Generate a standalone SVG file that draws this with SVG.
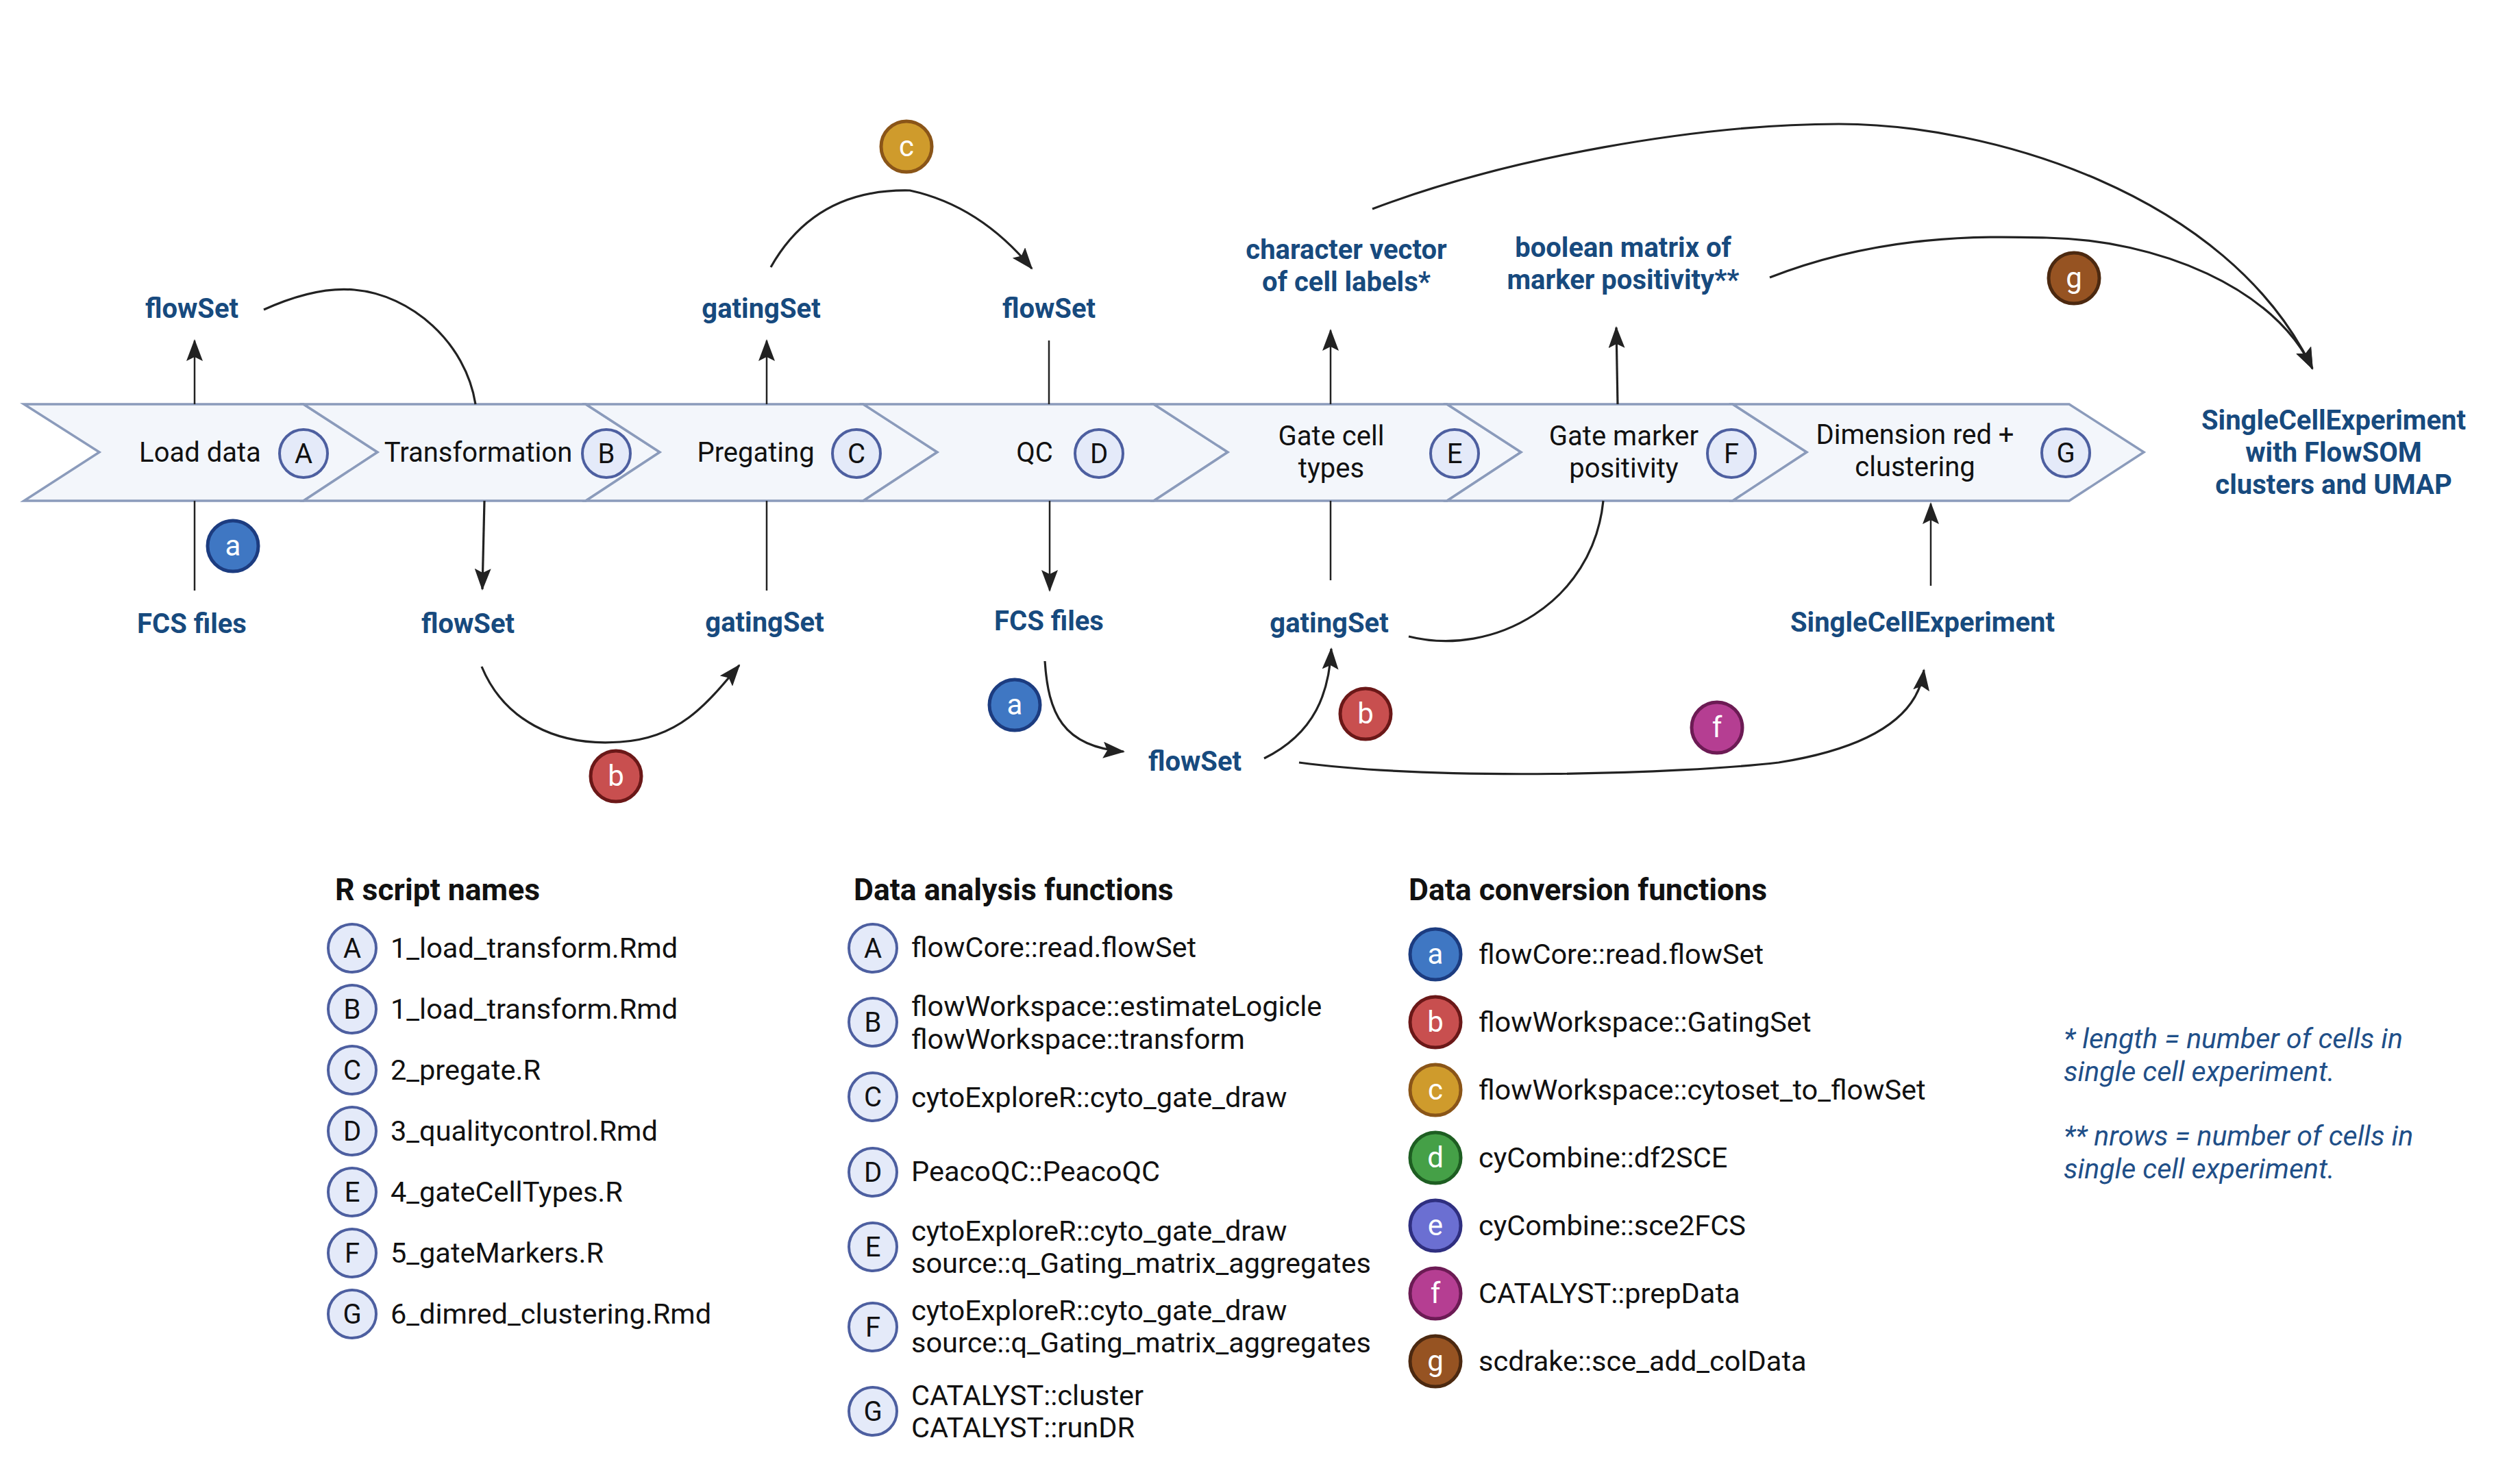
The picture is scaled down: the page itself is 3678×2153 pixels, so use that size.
<svg xmlns="http://www.w3.org/2000/svg" width="3678" height="2153" viewBox="0 0 3678 2153">
<defs>
<style>
text{font-family:Roboto,"Liberation Sans",sans-serif;}
.st{font-size:40px;fill:#111;text-anchor:middle;}
.lb{font-size:40px;font-weight:700;fill:#174a7e;text-anchor:middle;}
.lt{font-size:41.5px;fill:#111;}
.hd{font-size:44.5px;font-weight:700;fill:#111;}
.nt{font-size:41px;font-style:italic;fill:#1f4f88;}
.cl{font-size:42px;fill:#fff;text-anchor:middle;}
.cu{font-size:40px;fill:#111;text-anchor:middle;}
.band{fill:#f3f6fb;stroke:#8b9bbb;stroke-width:3.5;stroke-linejoin:miter;}
.sc{fill:#e4eaf9;stroke:#4d5fa0;stroke-width:4;}
.ln{stroke:#222;fill:none;stroke-width:2.5;}
.arc{stroke:#222;fill:none;stroke-width:3.2;}
.ca{fill:#3f77c3;stroke:#1c3c80;stroke-width:5;}
.cb{fill:#c84f4f;stroke:#6b1818;stroke-width:5;}
.cc{fill:#cf9b2c;stroke:#8a5518;stroke-width:5;}
.cd{fill:#45a047;stroke:#1e5e22;stroke-width:5;}
.ce{fill:#6b6fd2;stroke:#2f2f80;stroke-width:5;}
.cf{fill:#b53e92;stroke:#6c1b54;stroke-width:5;}
.cg{fill:#965322;stroke:#4c2910;stroke-width:5;}
</style>
<marker id="ah" viewBox="0 0 32 24" refX="30" refY="12" markerWidth="32" markerHeight="24" markerUnits="userSpaceOnUse" orient="auto">
<path d="M0,0 L32,12 L0,24 L6,12 Z" fill="#222"/>
</marker>
</defs>
<rect width="3678" height="2153" fill="#fff"/>

<g id="steps">
<g id="step-A">
<polygon class="band" points="35,590 443,590 551,660 443,731 35,731 145,660"/>
<text class="st" x="292" y="674">Load data</text>
<circle class="sc" cx="443" cy="662" r="35"/>
<text class="cu" x="443" y="676">A</text>
</g>
<g id="step-B">
<polygon class="band" points="443,590 855,590 963,660 855,731 443,731 551,660"/>
<text class="st" x="698" y="674">Transformation</text>
<circle class="sc" cx="885" cy="662" r="35"/>
<text class="cu" x="885" y="676">B</text>
</g>
<g id="step-C">
<polygon class="band" points="855,590 1260,590 1368,660 1260,731 855,731 963,660"/>
<text class="st" x="1103" y="674">Pregating</text>
<circle class="sc" cx="1250" cy="662" r="35"/>
<text class="cu" x="1250" y="676">C</text>
</g>
<g id="step-D">
<polygon class="band" points="1260,590 1684,590 1792,660 1684,731 1260,731 1368,660"/>
<text class="st" x="1510" y="674">QC</text>
<circle class="sc" cx="1604" cy="662" r="35"/>
<text class="cu" x="1604" y="676">D</text>
</g>
<g id="step-E">
<polygon class="band" points="1684,590 2112,590 2220,660 2112,731 1684,731 1792,660"/>
<text class="st" x="1943" y="650">Gate cell</text>
<text class="st" x="1943" y="697">types</text>
<circle class="sc" cx="2123" cy="662" r="35"/>
<text class="cu" x="2123" y="676">E</text>
</g>
<g id="step-F">
<polygon class="band" points="2112,590 2529,590 2637,660 2529,731 2112,731 2220,660"/>
<text class="st" x="2370" y="650">Gate marker</text>
<text class="st" x="2370" y="697">positivity</text>
<circle class="sc" cx="2527" cy="662" r="35"/>
<text class="cu" x="2527" y="676">F</text>
</g>
<g id="step-G">
<polygon class="band" points="2529,590 3020,590 3129,660 3020,731 2529,731 2637,660"/>
<text class="st" x="2795" y="648">Dimension red +</text>
<text class="st" x="2795" y="695">clustering</text>
<circle class="sc" cx="3015" cy="661" r="35"/>
<text class="cu" x="3015" y="675">G</text>
</g>
</g>

<g id="data-labels">
<g id="top-flowSet-1"><text class="lb" x="280" y="464">flowSet</text></g>
<g id="top-gatingSet"><text class="lb" x="1111" y="464">gatingSet</text></g>
<g id="top-flowSet-2"><text class="lb" x="1531" y="464">flowSet</text></g>
<g id="char-vector"><text class="lb" x="1965" y="378">character vector</text><text class="lb" x="1965" y="425">of cell labels*</text></g>
<g id="bool-matrix"><text class="lb" x="2369" y="375">boolean matrix of</text><text class="lb" x="2369" y="422">marker positivity**</text></g>
<g id="sce-final"><text class="lb" x="3406" y="627">SingleCellExperiment</text><text class="lb" x="3406" y="674">with FlowSOM</text><text class="lb" x="3406" y="721">clusters and UMAP</text></g>
<g id="fcs-1"><text class="lb" x="280" y="924">FCS files</text></g>
<g id="bot-flowSet-1"><text class="lb" x="683" y="924">flowSet</text></g>
<g id="bot-gatingSet-1"><text class="lb" x="1116" y="922">gatingSet</text></g>
<g id="fcs-2"><text class="lb" x="1531" y="920">FCS files</text></g>
<g id="bot-flowSet-2"><text class="lb" x="1744" y="1125">flowSet</text></g>
<g id="bot-gatingSet-2"><text class="lb" x="1940" y="923">gatingSet</text></g>
<g id="bot-sce"><text class="lb" x="2806" y="922">SingleCellExperiment</text></g>
</g>

<g id="connectors">
<path class="ln" d="M284,590 L284,497" marker-end="url(#ah)"/>
<path class="arc" d="M385,452 Q460,418 517,423 C600,430 680,500 694,590"/>
<path class="arc" d="M707,731 L704,860" marker-end="url(#ah)"/>
<path class="ln" d="M1119,590 L1119,497" marker-end="url(#ah)"/>
<path class="ln" d="M1531,497 L1531,590"/>
<path class="arc" d="M1125,390 Q1190,275 1328,278 Q1430,300 1506,392" marker-end="url(#ah)"/>
<path class="ln" d="M1942,590 L1942,482" marker-end="url(#ah)"/>
<path class="arc" d="M2361,590 L2359,478" marker-end="url(#ah)"/>
<path class="arc" d="M2003,305 C2200,230 2480,181 2684,181 C2900,181 3250,280 3375,538" marker-end="url(#ah)"/>
<path class="arc" d="M2583,405 C2750,340 2900,345 2987,347 C3150,350 3320,420 3375,538" marker-end="url(#ah)"/>
<path class="ln" d="M284,862 L284,731"/>
<path class="ln" d="M1119,862 L1119,731"/>
<path class="ln" d="M1532,731 L1532,862" marker-end="url(#ah)"/>
<path class="ln" d="M1942,847 L1942,731"/>
<path class="arc" d="M2056,929 C2180,960 2325,880 2340,731"/>
<path class="ln" d="M2818,855 L2818,735" marker-end="url(#ah)"/>
<path class="arc" d="M703,973 C735,1050 810,1090 905,1083 C990,1078 1030,1030 1079,971" marker-end="url(#ah)"/>
<path class="arc" d="M1525,965 C1530,1040 1550,1090 1640,1097" marker-end="url(#ah)"/>
<path class="arc" d="M1845,1107 C1920,1070 1940,1010 1943,947" marker-end="url(#ah)"/>
<path class="arc" d="M1896,1113 C2100,1140 2450,1130 2596,1113 C2740,1090 2800,1040 2808,978" marker-end="url(#ah)"/>
</g>

<g id="function-badges">
<g id="badge-a1"><circle class="ca" cx="340" cy="797" r="37"/><text class="cl" x="340" y="811">a</text></g>
<g id="badge-c"><circle class="cc" cx="1323" cy="214" r="37"/><text class="cl" x="1323" y="228">c</text></g>
<g id="badge-g"><circle class="cg" cx="3027" cy="406" r="37"/><text class="cl" x="3027" y="420">g</text></g>
<g id="badge-b1"><circle class="cb" cx="899" cy="1133" r="37"/><text class="cl" x="899" y="1147">b</text></g>
<g id="badge-a2"><circle class="ca" cx="1481" cy="1029" r="37"/><text class="cl" x="1481" y="1043">a</text></g>
<g id="badge-b2"><circle class="cb" cx="1993" cy="1042" r="37"/><text class="cl" x="1993" y="1056">b</text></g>
<g id="badge-f"><circle class="cf" cx="2506" cy="1062" r="37"/><text class="cl" x="2506" y="1076">f</text></g>
</g>

<g id="legend-scripts">
<text class="hd" x="489" y="1314">R script names</text>
<circle class="sc" cx="514" cy="1384" r="35"/><text class="cu" x="514" y="1398">A</text><text class="lt" x="570" y="1398">1_load_transform.Rmd</text>
<circle class="sc" cx="514" cy="1473" r="35"/><text class="cu" x="514" y="1487">B</text><text class="lt" x="570" y="1487">1_load_transform.Rmd</text>
<circle class="sc" cx="514" cy="1562" r="35"/><text class="cu" x="514" y="1576">C</text><text class="lt" x="570" y="1576">2_pregate.R</text>
<circle class="sc" cx="514" cy="1651" r="35"/><text class="cu" x="514" y="1665">D</text><text class="lt" x="570" y="1665">3_qualitycontrol.Rmd</text>
<circle class="sc" cx="514" cy="1740" r="35"/><text class="cu" x="514" y="1754">E</text><text class="lt" x="570" y="1754">4_gateCellTypes.R</text>
<circle class="sc" cx="514" cy="1829" r="35"/><text class="cu" x="514" y="1843">F</text><text class="lt" x="570" y="1843">5_gateMarkers.R</text>
<circle class="sc" cx="514" cy="1918" r="35"/><text class="cu" x="514" y="1932">G</text><text class="lt" x="570" y="1932">6_dimred_clustering.Rmd</text>
</g>

<g id="legend-analysis">
<text class="hd" x="1246" y="1314">Data analysis functions</text>
<circle class="sc" cx="1274" cy="1384" r="35"/><text class="cu" x="1274" y="1398">A</text><text class="lt" x="1330" y="1397">flowCore::read.flowSet</text>
<circle class="sc" cx="1274" cy="1492" r="35"/><text class="cu" x="1274" y="1506">B</text><text class="lt" x="1330" y="1483">flowWorkspace::estimateLogicle</text><text class="lt" x="1330" y="1531">flowWorkspace::transform</text>
<circle class="sc" cx="1274" cy="1601" r="35"/><text class="cu" x="1274" y="1615">C</text><text class="lt" x="1330" y="1616">cytoExploreR::cyto_gate_draw</text>
<circle class="sc" cx="1274" cy="1711" r="35"/><text class="cu" x="1274" y="1725">D</text><text class="lt" x="1330" y="1724">PeacoQC::PeacoQC</text>
<circle class="sc" cx="1274" cy="1820" r="35"/><text class="cu" x="1274" y="1834">E</text><text class="lt" x="1330" y="1811">cytoExploreR::cyto_gate_draw</text><text class="lt" x="1330" y="1858">source::q_Gating_matrix_aggregates</text>
<circle class="sc" cx="1274" cy="1937" r="35"/><text class="cu" x="1274" y="1951">F</text><text class="lt" x="1330" y="1927">cytoExploreR::cyto_gate_draw</text><text class="lt" x="1330" y="1974">source::q_Gating_matrix_aggregates</text>
<circle class="sc" cx="1274" cy="2060" r="35"/><text class="cu" x="1274" y="2074">G</text><text class="lt" x="1330" y="2051">CATALYST::cluster</text><text class="lt" x="1330" y="2098">CATALYST::runDR</text>
</g>

<g id="legend-conversion">
<text class="hd" x="2056" y="1314">Data conversion functions</text>
<circle class="ca" cx="2095" cy="1393" r="37"/><text class="cl" x="2095" y="1407">a</text><text class="lt" x="2158" y="1407">flowCore::read.flowSet</text>
<circle class="cb" cx="2095" cy="1492" r="37"/><text class="cl" x="2095" y="1506">b</text><text class="lt" x="2158" y="1506">flowWorkspace::GatingSet</text>
<circle class="cc" cx="2095" cy="1591" r="37"/><text class="cl" x="2095" y="1605">c</text><text class="lt" x="2158" y="1605">flowWorkspace::cytoset_to_flowSet</text>
<circle class="cd" cx="2095" cy="1690" r="37"/><text class="cl" x="2095" y="1704">d</text><text class="lt" x="2158" y="1704">cyCombine::df2SCE</text>
<circle class="ce" cx="2095" cy="1789" r="37"/><text class="cl" x="2095" y="1803">e</text><text class="lt" x="2158" y="1803">cyCombine::sce2FCS</text>
<circle class="cf" cx="2095" cy="1888" r="37"/><text class="cl" x="2095" y="1902">f</text><text class="lt" x="2158" y="1902">CATALYST::prepData</text>
<circle class="cg" cx="2095" cy="1987" r="37"/><text class="cl" x="2095" y="2001">g</text><text class="lt" x="2158" y="2001">scdrake::sce_add_colData</text>
</g>

<g id="notes">
<text class="nt" x="3012" y="1530">* length = number of cells in</text>
<text class="nt" x="3012" y="1578">single cell experiment.</text>
<text class="nt" x="3012" y="1672">** nrows = number of cells in</text>
<text class="nt" x="3012" y="1720">single cell experiment.</text>
</g>
</svg>
